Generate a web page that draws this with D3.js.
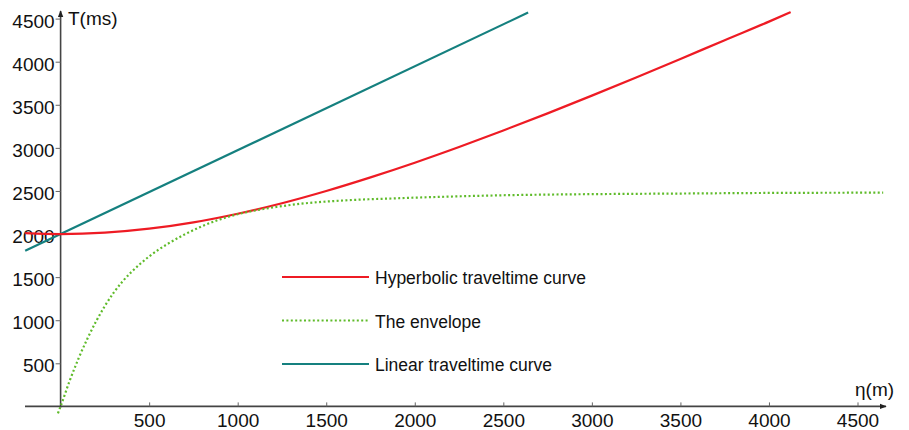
<!DOCTYPE html>
<html>
<head>
<meta charset="utf-8">
<script src="https://cdn.jsdelivr.net/npm/d3@7"></script>
<style>
	body { margin: 0; background: #fff; }
	svg text { font-family: "Liberation Sans", Arial, sans-serif; fill: #111; }
</style>
</head>
<body>
<svg id="chart"></svg>
<script>
// values
const xTicks = [500, 1000, 1500, 2000, 2500, 3000, 3500, 4000, 4500];
const yTicks = [500, 1000, 1500, 2000, 2500, 3000, 3500, 4000, 4500];

const hyperX = [-200, 0, 250, 500, 750, 1000, 1250, 1500, 1750, 2000, 2250, 2500, 2750, 3000, 3250, 3500, 3750, 4000, 4123];
const hyperT = [2010, 2000, 2016, 2062, 2136, 2236, 2358, 2500, 2658, 2828, 3010, 3202, 3400, 3606, 3816, 4031, 4250, 4465, 4575];

const envX = [-15, 0, 50, 100, 150, 200, 250, 300, 350, 400, 450, 500, 600, 700, 800, 900, 1000, 1150, 1350, 1600, 1900, 2200, 2500, 3000, 3500, 4000, 4645];
const envT = [-80, 0, 290, 550, 780, 985, 1165, 1320, 1450, 1560, 1655, 1740, 1880, 1995, 2092, 2170, 2230, 2292, 2350, 2390, 2415, 2435, 2450, 2463, 2470, 2477, 2480];

const linX = [-200, 2640];
const linT = [1805, 4570];

const legendLabels = ["Hyperbolic traveltime curve", "The envelope", "Linear traveltime curve"];

const width = 909, height = 430;
const svg = d3.select("#chart").attr("width", width).attr("height", height);

let x = d3.scaleLinear().domain([0, 4500]).range([60.6, 857.5]);
let y = d3.scaleLinear().domain([0, 4500]).range([406.4, 18.6]);

svg.append("defs").append("marker")
	.attr("id", "arrow")
	.attr("viewBox", "0 0 10 10")
	.attr("refX", 9).attr("refY", 5)
	.attr("markerWidth", 7).attr("markerHeight", 7)
	.attr("markerUnits", "userSpaceOnUse")
	.attr("orient", "auto")
	.append("path")
	.attr("d", "M0,1L10,5L0,9Z")
	.style("fill", "#222");

// axis lines with arrows
svg.append("line")
	.attr("x1", 25).attr("y1", y(0))
	.attr("x2", 886).attr("y2", y(0))
	.attr("marker-end", "url(#arrow)")
	.style("stroke", "#444").style("stroke-width", 1.6);
svg.append("line")
	.attr("x1", x(0)).attr("y1", y(0) + 1)
	.attr("x2", x(0)).attr("y2", 11)
	.attr("marker-end", "url(#arrow)")
	.style("stroke", "#444").style("stroke-width", 1.6);

let xAxis = svg.append("g")
	.attr("transform", "translate(0," + y(0) + ")")
	.call(d3.axisBottom(x).tickValues(xTicks).tickFormat(d3.format("d")).tickSize(-4).tickPadding(7));
let yAxis = svg.append("g")
	.attr("transform", "translate(" + x(0) + ",0)")
	.call(d3.axisLeft(y).tickValues(yTicks).tickFormat(d3.format("d")).tickSize(5).tickPadding(1));

[xAxis, yAxis].forEach(function(g) {
	g.select(".domain").remove();
	g.selectAll(".tick line").style("stroke", "#666").style("stroke-width", 1);
	g.selectAll(".tick text").style("font-size", "19px").style("fill", "#111");
});
yAxis.selectAll(".tick text").attr("dy", "0.45em");

svg.append("text").attr("x", 68).attr("y", 25).style("font-size", "19px").text("T(ms)");
svg.append("text").attr("x", 855).attr("y", 396).style("font-size", "19px").text("η(m)");

// curves
let line = d3.line()
	.x(d => x(d[0]))
	.y(d => y(d[1]))
	.curve(d3.curveMonotoneX);

svg.append("path")
	.attr("d", line(linX.map((v, i) => [v, linT[i]])))
	.style("fill", "none").style("stroke", "#15807f").style("stroke-width", 2.2);

svg.append("path")
	.attr("d", line(hyperX.map((v, i) => [v, hyperT[i]])))
	.style("fill", "none").style("stroke", "#ee1b24").style("stroke-width", 2.2);

svg.append("path")
	.attr("d", line(envX.map((v, i) => [v, envT[i]])))
	.style("fill", "none").style("stroke", "#5fbb2a").style("stroke-width", 2.2)
	.style("stroke-dasharray", "2,2.4");

// legend
const legendColors = ["#ee1b24", "#5fbb2a", "#15807f"];
const legendDash = ["none", "2,2.4", "none"];
let legend = svg.append("g");
legendLabels.forEach(function(d, i) {
	let ly = 277 + i * 43.5;
	legend.append("line")
		.attr("x1", 282).attr("x2", 369)
		.attr("y1", ly).attr("y2", ly)
		.style("stroke", legendColors[i]).style("stroke-width", 2.2)
		.style("stroke-dasharray", legendDash[i]);
	legend.append("text")
		.attr("x", 375).attr("y", ly + 7)
		.style("font-size", "17.5px")
		.text(d);
});
</script>
</body>
</html>
